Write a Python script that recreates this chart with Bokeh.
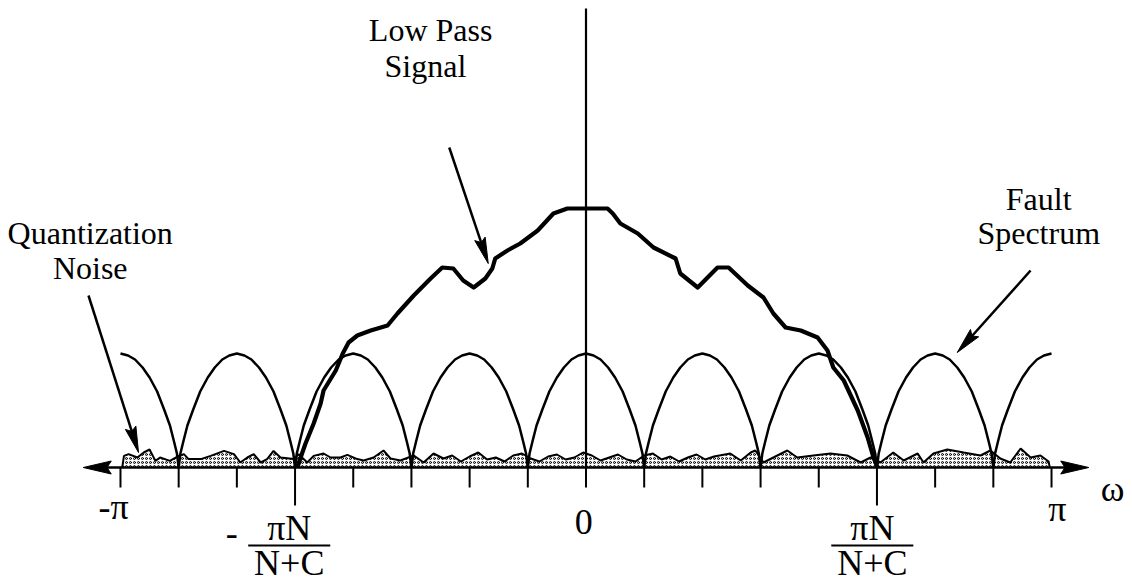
from bokeh.plotting import figure
from bokeh.models import Range1d
from bokeh.core.properties import value
from bokeh.embed import file_html
from bokeh.resources import INLINE
import math

# ---------------- data (x in units of pi/8, y in arbitrary magnitude units) ----------------
LOWPASS_X = [-4.96, -4.91, -4.82, -4.68, -4.56, -4.51, -4.30, -4.18, -4.08, -3.93, -3.70, -3.41,
             -3.24, -2.96, -2.67, -2.47, -2.28, -2.11, -1.93, -1.73, -1.61, -1.56, -1.35, -1.13,
             -0.83, -0.56, -0.32, 0.0, 0.37, 0.46, 0.59, 0.89, 1.16, 1.54, 1.62, 1.92, 2.26, 2.45,
             2.78, 3.05, 3.22, 3.43, 3.69, 3.98, 4.15, 4.25, 4.43, 4.67, 4.84, 4.94, 5.01]
LOWPASS_Y = [0, 4.5, 12, 22, 32, 38.5, 48.5, 57, 62.5, 66, 68.5, 71,
             77, 86, 94.5, 100, 99.5, 93.5, 90, 94.5, 99.5, 104.5, 108.5, 112,
             118.5, 127, 129.5, 129.5, 129.5, 127, 122, 117, 110, 104.5, 97, 90, 100, 100,
             91, 85, 77, 70, 68.5, 65, 58.5, 50, 43.5, 28.5, 15, 5, 0]

# fault spectrum: arch centres and the read profile of one half arch (zero -> peak)
ARCH_CENTERS = [-8, -6, -4, -2, 0, 2, 4, 6, 8]
ARCH_T = [0, 0.03, 0.08, 0.15, 0.25, 0.37, 0.5, 0.62, 0.75, 0.87, 1.0]
ARCH_H = [0, 7, 13, 21, 29, 38, 45, 50, 54, 56, 57]

NOISE_X = [-7.97, -7.94, -7.86, -7.71, -7.60, -7.50, -7.40, -7.32, -7.15, -7.00, -6.91, -6.83,
           -6.62, -6.45, -6.22, -6.05, -5.94, -5.82, -5.71, -5.59, -5.48, -5.37, -5.25, -5.02,
           -4.94, -4.79, -4.68, -4.51, -4.39, -4.22, -4.10, -3.93, -3.82, -3.65, -3.48, -3.36,
           -3.19, -2.96, -2.79, -2.62, -2.45, -2.30, -2.15, -2.00, -1.85, -1.70, -1.55, -1.40,
           -1.25, -1.10, -0.95, -0.80, -0.65, -0.50, -0.35, -0.20, -0.05, 0.10, 0.25, 0.40,
           0.55, 0.70, 0.85, 1.00, 1.15, 1.30, 1.45, 1.60, 1.75, 1.90, 2.05, 2.20,
           2.48, 2.66, 2.83, 2.91, 3.05, 3.22, 3.46, 3.63, 3.91, 4.20, 4.49, 4.72,
           4.89, 5.06, 5.28, 5.46, 5.70, 5.80, 5.97, 6.21, 6.49, 6.78, 6.95, 7.12,
           7.29, 7.47, 7.64, 7.81, 7.95, 7.97]
NOISE_Y = [0, 5.8, 6.7, 5, 7.5, 9, 3.3, 5, 3.3, 5.8, 6.7, 4.2,
           4.2, 5.8, 8.3, 6.7, 2.5, 5, 6.7, 2.5, 4.2, 8.3, 5, 4.2,
           6.7, 2.5, 5.8, 7, 5, 5, 6.3, 4.2, 3.5, 5, 8.5, 4.5,
           3.5, 6, 2.5, 7, 4.5, 6, 3, 5.5, 7.5, 4, 5, 3,
           6, 7, 4.5, 3, 5.5, 6.5, 4, 5, 7.5, 6, 3.5, 5,
           6.5, 4, 3, 6, 7, 4, 5.5, 3, 5, 6.5, 4, 5.5,
           7, 3.5, 7.5, 8.5, 2.5, 5, 8.5, 5, 6, 7, 6, 2.5,
           5, 2.5, 7.5, 3.5, 7, 2.5, 7, 9, 7.5, 6, 8.5, 4.5,
           2.5, 9.5, 5, 6, 3, 0]

TICKS = [-8, -7, -6, -5, -4, -3, -2, -1, 0, 1, 2, 3, 4, 5, 6, 7, 8]
LONG_TICKS = [-5, 5]

# ---------------- layout ----------------
W, H = 1132, 584
PX_X = 58.19   # pixels per x unit
PX_Y = 2.0     # pixels per y unit
X0_PX, Y0_PX = 585.5, 467
FONT = value("Liberation Serif")

p = figure(width=W, height=H, output_backend="svg", toolbar_location=None,
           x_range=Range1d(-X0_PX / PX_X, (W - X0_PX) / PX_X),
           y_range=Range1d(-(H - Y0_PX) / PX_Y, Y0_PX / PX_Y),
           x_axis_location=None, y_axis_location=None, min_border=0)
p.outline_line_color = None
p.grid.visible = False
p.background_fill_color = "white"
p.border_fill_color = "white"


def head(tip, tail, length, width):
    dx = (tip[0] - tail[0]) * PX_X
    dy = (tip[1] - tail[1]) * PX_Y
    L = math.hypot(dx, dy)
    ux, uy = dx / L, dy / L
    bx, by = -ux * length, -uy * length
    nx, ny = -uy * width / 2, ux * width / 2
    xs = [tip[0], tip[0] + (bx + nx) / PX_X, tip[0] + (bx * 0.85) / PX_X, tip[0] + (bx - nx) / PX_X]
    ys = [tip[1], tip[1] + (by + ny) / PX_Y, tip[1] + (by * 0.85) / PX_Y, tip[1] + (by - ny) / PX_Y]
    base = (tip[0] + bx * 0.8 / PX_X, tip[1] + by * 0.8 / PX_Y)
    return xs, ys, base


def arrow(tail, tip, lw=2.5, length=26, width=11):
    xs, ys, base = head(tip, tail, length, width)
    p.line([tail[0], base[0]], [tail[1], base[1]], line_color="black", line_width=lw)
    p.patch(xs, ys, fill_color="black", line_color="black", line_width=1)


def label(x, y, s, size):
    p.text(x=[x], y=[y], text=[s], text_font=FONT, text_font_size=size,
           text_align="center", text_baseline="alphabetic")


# quantization noise (stippled)
p.varea(x=NOISE_X, y1=[0] * len(NOISE_X), y2=NOISE_Y, fill_color="white",
        hatch_pattern="ring", hatch_color="black", hatch_scale=4, hatch_weight=1)
p.line(NOISE_X, NOISE_Y, line_color="black", line_width=2)

# fault spectrum arches
arch_xs, arch_ys = [], []
for c in ARCH_CENTERS:
    xs = [c - 1 + t for t in ARCH_T] + [c + 1 - t for t in reversed(ARCH_T[:-1])]
    ys = ARCH_H + list(reversed(ARCH_H[:-1]))
    pts = [(x, y) for x, y in zip(xs, ys) if TICKS[0] <= x <= TICKS[-1]]
    arch_xs.append([q[0] for q in pts])
    arch_ys.append([q[1] for q in pts])
p.multi_line(arch_xs, arch_ys, line_color="black", line_width=2.5)

# low pass signal
p.line(LOWPASS_X, LOWPASS_Y, line_color="black", line_width=4.2, line_join="round")

# axes
ax_end = 8.64
arrow((0, 0), (-ax_end, 0), lw=2.5, length=28, width=13)
arrow((0, 0), (ax_end, 0), lw=2.5, length=28, width=13)
p.segment(x0=[0], y0=[0], x1=[0], y1=[229.5], line_color="black", line_width=2.2)
short = [t for t in TICKS if t not in LONG_TICKS]
p.segment(x0=short, y0=[0] * len(short), x1=short, y1=[-10] * len(short),
          line_color="black", line_width=2)
p.segment(x0=LONG_TICKS, y0=[0, 0], x1=LONG_TICKS, y1=[-19, -19],
          line_color="black", line_width=2)

# tick labels
TS = "36px"
label(-8.12, -19.5, "-π", TS)
label(-0.04, -27, "0", TS)
label(8.1, -20.5, "π", TS)
label(9.05, -10.5, "ω", TS)
for cx in (-5.1, 4.92):
    label(cx, -30, "πN", TS)
    p.segment(x0=[cx - 0.705], y0=[-39], x1=[cx + 0.705], y1=[-39], line_color="black", line_width=2)
    label(cx, -47.5, "N+C", TS)
label(-6.09, -32.5, "-", TS)

# annotations
LS = "32px"
label(-2.67, 219, "Low Pass", LS)
label(-2.76, 201, "Signal", LS)
label(7.78, 134.5, "Fault", LS)
label(7.78, 117.5, "Spectrum", LS)
label(-8.52, 117.5, "Quantization", LS)
label(-8.52, 100, "Noise", LS)

arrow((-2.35, 160), (-1.68, 102))
arrow((7.64, 98.5), (6.38, 57.5))
arrow((-8.55, 86), (-7.69, 7.5))

open("out.html", "w").write(file_html(p, INLINE))
